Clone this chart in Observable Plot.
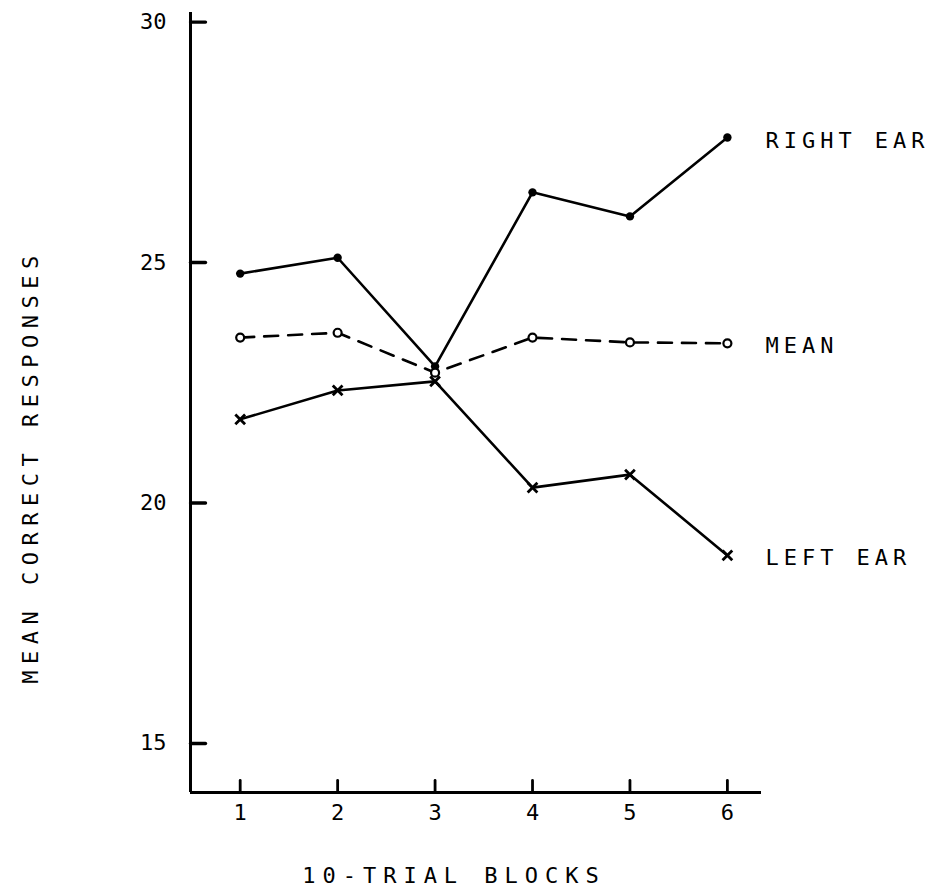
<!DOCTYPE html>
<html>
<head>
<meta charset="utf-8">
<script src="https://cdn.jsdelivr.net/npm/d3@7"></script>
<script src="https://cdn.jsdelivr.net/npm/@observablehq/plot@0.6"></script>
<style>
  html, body { margin: 0; padding: 0; background: #fff; }
  #chart svg { display: block; }
</style>
</head>
<body>
<div id="chart"></div>
<script>
const blocks = [1, 2, 3, 4, 5, 6];
const rightEar = [24.77, 25.10, 22.84, 26.46, 25.96, 27.60];
const meanScores = [23.44, 23.54, 22.71, 23.44, 23.34, 23.32];
const leftEar = [21.74, 22.34, 22.53, 20.32, 20.59, 18.91];
const seriesNames = ["RIGHT EAR", "MEAN", "LEFT EAR"];
const yTicks = [15, 20, 25, 30];
const xDomain = [0.49, 6.35];
const yDomain = [13.98, 30.2];
const yTitle = "MEAN CORRECT RESPONSES";
const xTitle = "10-TRIAL BLOCKS";

const toRows = (vals, name) => blocks.map((b, i) => ({block: b, value: vals[i], series: name}));
const right = toRows(rightEar, seriesNames[0]);
const mean = toRows(meanScores, seriesNames[1]);
const left = toRows(leftEar, seriesNames[2]);
const lastPts = [right[5], mean[5], left[5]];

const tickShape = {draw(context, l) { context.moveTo(0, 0); context.lineTo(0, -l); }};

const chart = Plot.plot({
  width: 935,
  height: 896,
  marginLeft: 190,
  marginRight: 174,
  marginTop: 12,
  marginBottom: 104,
  style: {fontFamily: "'DejaVu Sans Mono', monospace", fontSize: "22px", color: "#000", background: "#fff"},
  x: {domain: xDomain},
  y: {domain: yDomain},
  marks: [
    // axis lines
    Plot.ruleX([xDomain[0]], {stroke: "#000", strokeWidth: 3}),
    Plot.ruleY([yDomain[0]], {stroke: "#000", strokeWidth: 3}),
    // inward ticks
    Plot.vector(yTicks, {x: () => xDomain[0], y: d => d, length: 15, rotate: 90, anchor: "start", shape: tickShape, stroke: "#000", strokeWidth: 3.4}),
    Plot.vector(blocks, {x: d => d, y: () => yDomain[0], length: 12, rotate: 0, anchor: "start", shape: tickShape, stroke: "#000", strokeWidth: 2.8}),
    // tick labels
    Plot.axisY(yTicks, {tickSize: 0, tickPadding: 24, fontSize: 22, label: null}),
    Plot.axisX(blocks, {tickSize: 0, tickPadding: 12, fontSize: 22, label: null}),
    // lines
    Plot.line(right, {x: "block", y: "value", stroke: "#000", strokeWidth: 2.6}),
    Plot.line(mean, {x: "block", y: "value", stroke: "#000", strokeWidth: 2.6, strokeDasharray: "14,10"}),
    Plot.line(left, {x: "block", y: "value", stroke: "#000", strokeWidth: 2.6}),
    // markers
    Plot.dot(right, {x: "block", y: "value", r: 4.2, fill: "#000"}),
    Plot.dot(mean, {x: "block", y: "value", r: 4, fill: "#fff", stroke: "#000", strokeWidth: 2.2}),
    Plot.dot(left, {x: "block", y: "value", symbol: "times", r: 4.5, stroke: "#000", strokeWidth: 2.8}),
    // series labels
    Plot.text(lastPts, {x: "block", y: "value", text: "series", textAnchor: "start", dx: 38, dy: 3, fontSize: 22}),
    // axis titles
    Plot.text([yTitle], {frameAnchor: "left", textAnchor: "middle", dx: -160, dy: 64, rotate: -90, fontSize: 22}),
    Plot.text([xTitle], {frameAnchor: "bottom", textAnchor: "middle", dy: 90, dx: -22, fontSize: 22})
  ]
});
document.getElementById("chart").appendChild(chart);
const spacing = new Map([[seriesNames[0], 5], [seriesNames[1], 5], [seriesNames[2], 5], [yTitle, 6.5], [xTitle, 7]]);
d3.select(chart).selectAll("text").filter(function() { return spacing.has(this.textContent); })
  .style("letter-spacing", function() { return spacing.get(this.textContent) + "px"; });
</script>
</body>
</html>
